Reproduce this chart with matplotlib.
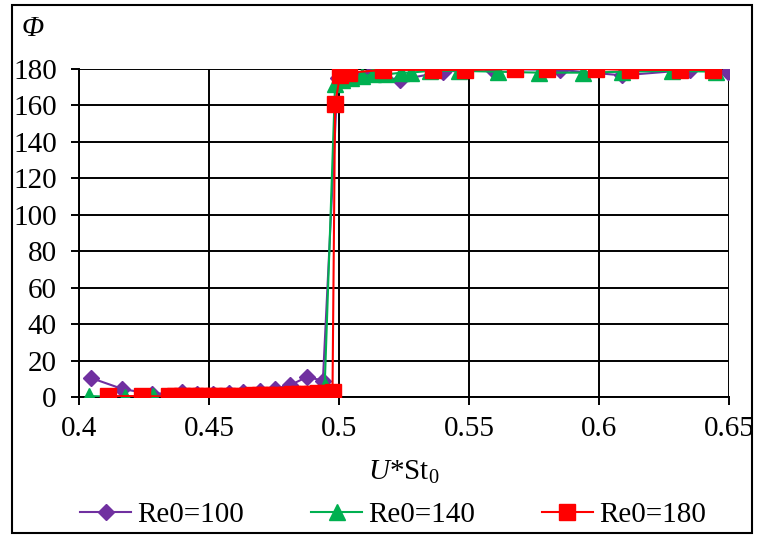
import matplotlib
matplotlib.use("Agg")
import matplotlib.pyplot as plt
from matplotlib.patches import Rectangle

# Phase difference vs. U*St0 for three Reynolds numbers
re100_x = [0.4045, 0.4165, 0.428, 0.4395, 0.4455, 0.4515, 0.4575, 0.463, 0.4696,
           0.4754, 0.4812, 0.4877, 0.4938, 0.4995, 0.505, 0.512, 0.5235, 0.540,
           0.559, 0.585, 0.609, 0.635, 0.6495]
re100_y = [10.5, 4.5, 1.5, 3.0, 1.5, 1.5, 2.0, 3.0, 3.5,
           4.5, 6.5, 11.0, 9.0, 175.0, 177.0, 177.0, 174.0, 178.5,
           180.0, 179.5, 176.5, 179.5, 178.5]

re140_x = [0.404, 0.4177, 0.4285, 0.436, 0.442, 0.448, 0.454, 0.460, 0.466,
           0.472, 0.478, 0.484, 0.489, 0.4945, 0.4985, 0.501, 0.5045, 0.509,
           0.513, 0.518, 0.524, 0.5275, 0.535, 0.546, 0.561, 0.577, 0.594,
           0.609, 0.628, 0.645]
re140_y = [0.5, 0.0, 0.5, 0.5, 0.5, 0.5, 0.5, 0.5, 1.0,
           1.0, 1.0, 1.5, 2.0, 6.0, 172.0, 174.0, 175.0, 176.0,
           177.0, 177.0, 178.0, 178.0, 179.0, 179.0, 178.5, 178.0, 178.0,
           178.5, 179.0, 178.5]

re180_x = [0.411, 0.4242, 0.4345, 0.437, 0.4395, 0.442, 0.4445, 0.447, 0.4495,
           0.452, 0.4545, 0.457, 0.4595, 0.462, 0.4645, 0.467, 0.4695, 0.472,
           0.4745, 0.477, 0.4795, 0.482, 0.4845, 0.487, 0.4895, 0.492, 0.4945,
           0.4975, 0.4985, 0.5004, 0.504, 0.517, 0.536, 0.5485, 0.5677, 0.580,
           0.599, 0.612, 0.631, 0.6438]
re180_y = [0.5, 0.5, 0.3, 0.3, 0.4, 0.4, 0.5, 0.5, 0.5,
           0.6, 0.6, 0.7, 0.7, 0.8, 0.8, 0.9, 1.0, 1.0,
           1.1, 1.2, 1.3, 1.4, 1.5, 1.7, 1.9, 2.1, 2.4,
           3.0, 161.0, 176.5, 178.0, 179.5, 179.5, 179.5, 180.0, 180.0,
           180.0, 179.5, 179.5, 179.5]

x_ticks = [0.4, 0.45, 0.5, 0.55, 0.6, 0.65]
x_tick_labels = ["0.4", "0.45", "0.5", "0.55", "0.6", "0.65"]
y_ticks = [0, 20, 40, 60, 80, 100, 120, 140, 160, 180]

plt.rcParams["font.family"] = ["Liberation Serif", "DejaVu Serif"]
plt.rcParams["mathtext.fontset"] = "custom"
plt.rcParams["mathtext.rm"] = "Liberation Serif"
plt.rcParams["mathtext.it"] = "Liberation Serif:italic"

FS = 21
fig = plt.figure(figsize=(7.58, 5.35), dpi=100)
ax = fig.add_axes([79 / 758, 1 - 397 / 535, (729 - 79) / 758, (397 - 69) / 535])

ax.plot(re100_x, re100_y, color="#7030A0", lw=1.5, marker="D", ms=8.5,
        label="Re0=100", zorder=3)
ax.plot(re140_x, re140_y, color="#00B050", lw=1.5, marker="^", ms=12,
        label="Re0=140", zorder=4)
ax.plot(re180_x, re180_y, color="#FF0000", lw=1.5, marker="s", ms=11.5,
        label="Re0=180", zorder=5)

ax.set_xlim(0.4, 0.65)
ax.set_ylim(0, 180)
ax.set_xticks(x_ticks)
ax.set_xticklabels(x_tick_labels)
ax.set_yticks(y_ticks)
ax.tick_params(axis="both", labelsize=FS, direction="out", length=6, width=1.4,
               color="black")
ax.tick_params(axis="y", pad=10)
ax.tick_params(axis="x", pad=8)
ax.grid(True, color="black", lw=1.4)
ax.set_axisbelow(True)
for side in ["top", "right"]:
    ax.spines[side].set_visible(False)
for side in ["left", "bottom"]:
    ax.spines[side].set_linewidth(1.4)

ax.set_xlabel(r"$\mathit{U}$*St$_0$", fontsize=FS, labelpad=12)
fig.text(22 / 758, 1 - 29 / 535, "Φ", fontsize=FS, style="italic",
         va="center", ha="left")

fig.legend(loc="center", bbox_to_anchor=(393 / 758, 1 - 515 / 535), ncol=3,
           frameon=False, fontsize=FS, handlelength=1.75, handletextpad=0.2,
           columnspacing=2.3, borderaxespad=0)

fig.patches.append(Rectangle((12 / 758, 1 - 533 / 535), (752 - 12) / 758,
                             (533 - 5) / 535, transform=fig.transFigure,
                             fill=False, edgecolor="black", lw=1.5))

fig.savefig("out.png", dpi=100)
